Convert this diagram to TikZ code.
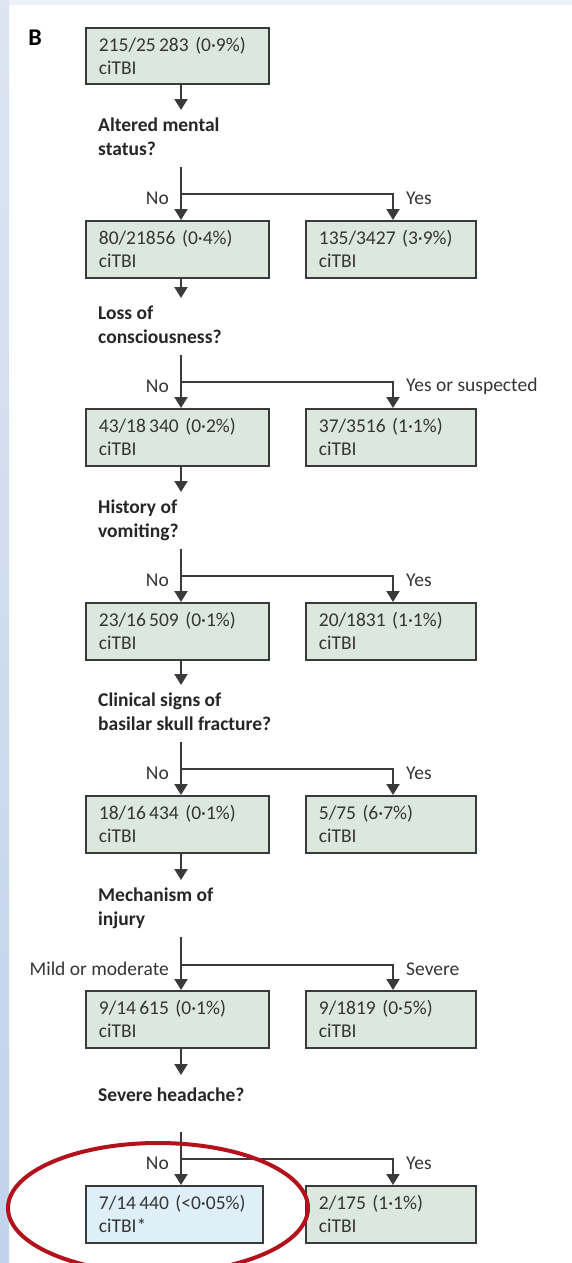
\documentclass[tikz,border=0pt]{standalone}
\usepackage{fontspec}
\setmainfont{Carlito}
\usetikzlibrary{arrows.meta,positioning}
\definecolor{boxfill}{HTML}{DBE7DF}
\definecolor{lastfill}{HTML}{DEEFF7}
\definecolor{boxline}{HTML}{3A3A3A}
\definecolor{inktext}{HTML}{353535}
\definecolor{ringred}{HTML}{B3121C}
\definecolor{stripblue}{HTML}{C2D2EC}
\definecolor{stripgrey}{HTML}{EEF1F5}
\begin{document}
\begin{tikzpicture}[
    x=1pt, y=-1pt,
    every node/.style={inner sep=0pt, font=\fontsize{19.5}{23}\selectfont},
    box/.style={draw=boxline, fill=boxfill, line width=1.8pt, anchor=north west,
      minimum height=57pt, text width=157pt, inner xsep=13pt, align=left, text=inktext},
    ybox/.style={box, text width=144pt},
    question/.style={anchor=north west, align=left, text=black!85,
      font=\bfseries\fontsize{19.5}{24}\selectfont},
    branch/.style={text=inktext},
    link/.style={draw=boxline, line width=2pt},
    arr/.style={link, -{Triangle[width=13pt,length=11pt]}}
  ]
  % page
  \useasboundingbox (0,0) rectangle (572,1263);
  \fill[white] (0,0) rectangle (572,1263);
  \fill[stripgrey] (0,0) rectangle (572,5);
  \shade[top color=stripgrey!60!stripblue, bottom color=stripblue] (0,0) rectangle (9,1263);

  \node[font=\bfseries\fontsize{24}{24}\selectfont] (panel) at (35,38) {B};
  \node[box, minimum height=56pt] (top) at (85,27) {215/25\,283 (0·9\%)\\ciTBI};

  % altered mental status
  \node[question] (q1) at (98,118) {Altered mental\\status?};
  \coordinate (a1) at (181,110);
  \coordinate (s1) at (181,167);
  \coordinate (f1) at (181,194);
  \coordinate (g1) at (393,194);
  \node[box] (n1) at (85,220) {80/21856 (0·4\%)\\ciTBI};
  \node[ybox] (y1) at (305,220) {135/3427 (3·9\%)\\ciTBI};
  \node[branch, left=12pt of f1, yshift=-4pt] (no1) {No};
  \node[branch, right=13pt of g1, yshift=-4pt] (yes1) {Yes};
  \draw[arr] (top.south -| a1) -- (a1);
  \draw[arr] (s1) -- (n1.north -| s1);
  \draw[arr] (f1) -- (g1) -- (y1.north -| g1);

  % loss of consciousness
  \node[question] (q2) at (98,306) {Loss of\\consciousness?};
  \coordinate (a2) at (181,298);
  \coordinate (s2) at (181,355);
  \coordinate (f2) at (181,382);
  \coordinate (g2) at (393,382);
  \node[box] (n2) at (85,408) {43/18\,340 (0·2\%)\\ciTBI};
  \node[ybox] (y2) at (305,408) {37/3516 (1·1\%)\\ciTBI};
  \node[branch, left=12pt of f2, yshift=-4pt] (no2) {No};
  \node[branch, right=13pt of g2, yshift=-4pt] (yes2) {Yes or suspected};
  \draw[arr] (n1.south -| a2) -- (a2);
  \draw[arr] (s2) -- (n2.north -| s2);
  \draw[arr] (f2) -- (g2) -- (y2.north -| g2);

  % vomiting
  \node[question] (q3) at (98,500) {History of\\vomiting?};
  \coordinate (a3) at (181,492);
  \coordinate (s3) at (181,549);
  \coordinate (f3) at (181,576);
  \coordinate (g3) at (393,576);
  \node[box] (n3) at (85,602) {23/16\,509 (0·1\%)\\ciTBI};
  \node[ybox] (y3) at (305,602) {20/1831 (1·1\%)\\ciTBI};
  \node[branch, left=12pt of f3, yshift=-4pt] (no3) {No};
  \node[branch, right=13pt of g3, yshift=-4pt] (yes3) {Yes};
  \draw[arr] (n2.south -| a3) -- (a3);
  \draw[arr] (s3) -- (n3.north -| s3);
  \draw[arr] (f3) -- (g3) -- (y3.north -| g3);

  % basilar skull fracture
  \node[question] (q4) at (98,693) {Clinical signs of\\basilar skull fracture?};
  \coordinate (a4) at (181,685);
  \coordinate (s4) at (181,742);
  \coordinate (f4) at (181,769);
  \coordinate (g4) at (393,769);
  \node[box] (n4) at (85,795) {18/16\,434 (0·1\%)\\ciTBI};
  \node[ybox] (y4) at (305,795) {5/75 (6·7\%)\\ciTBI};
  \node[branch, left=12pt of f4, yshift=-4pt] (no4) {No};
  \node[branch, right=13pt of g4, yshift=-4pt] (yes4) {Yes};
  \draw[arr] (n3.south -| a4) -- (a4);
  \draw[arr] (s4) -- (n4.north -| s4);
  \draw[arr] (f4) -- (g4) -- (y4.north -| g4);

  % mechanism
  \node[question] (q5) at (98,888) {Mechanism of\\injury};
  \coordinate (a5) at (181,880);
  \coordinate (s5) at (181,937);
  \coordinate (f5) at (181,965);
  \coordinate (g5) at (393,965);
  \node[box] (n5) at (85,990) {9/14\,615 (0·1\%)\\ciTBI};
  \node[ybox] (y5) at (305,990) {9/1819 (0·5\%)\\ciTBI};
  \node[branch, left=12pt of f5, yshift=-4pt] (no5) {Mild or moderate};
  \node[branch, right=13pt of g5, yshift=-4pt] (yes5) {Severe};
  \draw[arr] (n4.south -| a5) -- (a5);
  \draw[arr] (s5) -- (n5.north -| s5);
  \draw[arr] (f5) -- (g5) -- (y5.north -| g5);

  % headache
  \node[question] (q6) at (98,1088) {Severe headache?};
  \coordinate (a6) at (181,1075);
  \coordinate (s6) at (181,1132);
  \coordinate (f6) at (181,1159);
  \coordinate (g6) at (393,1159);
  \node[box, fill=lastfill, text width=151pt] (n6) at (85,1185) {7/14\,440 (<0·05\%)\\ciTBI*};
  \node[ybox] (y6) at (305,1185) {2/175 (1·1\%)\\ciTBI};
  \node[branch, left=12pt of f6, yshift=-4pt] (no6) {No};
  \node[branch, right=13pt of g6, yshift=-4pt] (yes6) {Yes};
  \draw[arr] (n5.south -| a6) -- (a6);
  \draw[arr] (s6) -- (n6.north -| s6);
  \draw[arr] (f6) -- (g6) -- (y6.north -| g6);

  \draw[ringred, line width=4pt] (158,1208) ellipse [x radius=150pt, y radius=65pt];
\end{tikzpicture}
\end{document}
